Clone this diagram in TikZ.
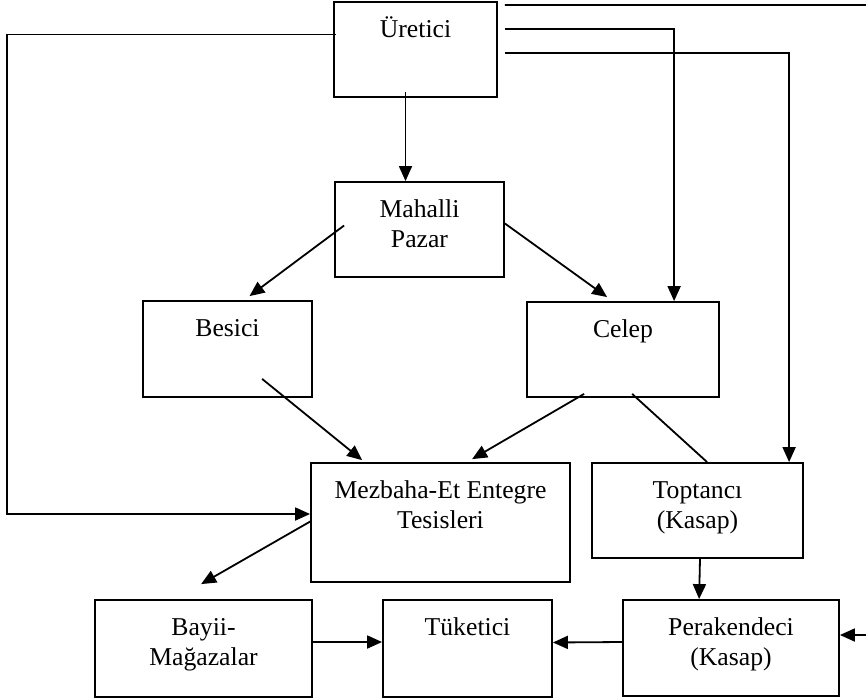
\documentclass[tikz,border=0pt]{standalone}
\usepackage{fontspec}
\setmainfont{Liberation Serif}
\usetikzlibrary{arrows.meta,calc}

\begin{document}
\begin{tikzpicture}[x=1pt,y=-1pt,->,>={Triangle[length=15pt,width=13pt]},
                    line width=1.8pt]
  \tikzstyle{box}=[draw=black,line width=1.8pt,inner sep=0pt]
  \tikzstyle{lbl}=[anchor=north,inner sep=0pt,outer sep=0pt,yshift=-15pt,align=center,
                   font=\fontsize{25.7}{30}\selectfont]

  \useasboundingbox (0,0) rectangle (866,698);

  % boxes
  \node[box,minimum width=163,minimum height=95,label={[lbl]north:\strut Üretici}]   (uretici)   at (415.5,49.5)  {};
  \node[box,minimum width=169,minimum height=95,label={[lbl]north:{\strut Mahalli\\Pazar}}] (mahalli) at (419.5,229.5) {};
  \node[box,minimum width=169,minimum height=96,label={[lbl]north:\strut Besici}]    (besici)    at (227.5,349)   {};
  \node[box,minimum width=192,minimum height=95,label={[lbl]north:\strut Celep}]     (celep)     at (623,349.5)   {};
  \node[box,minimum width=259,minimum height=119,label={[lbl]north:{\strut Mezbaha-Et Entegre\\Tesisleri}}] (mezbaha) at (440.5,522.5) {};
  \node[box,minimum width=211,minimum height=95,label={[lbl]north:{\strut Toptancı\\(Kasap)}}] (toptanci) at (697.5,510.5) {};
  \node[box,minimum width=217,minimum height=97,label={[lbl]north:{\strut Bayii-\\Mağazalar}}] (bayii) at (203.5,648.5) {};
  \node[box,minimum width=169,minimum height=97,label={[lbl]north:\strut Tüketici}]  (tuketici)  at (467.5,648.5) {};
  \node[box,minimum width=216,minimum height=96,label={[lbl]north:{\strut Perakendeci\\(Kasap)}}] (perakende) at (731,648) {};

  \coordinate (topend)   at (866,5);
  \coordinate (rightend) at (866,635);

  % from the producer
  \draw[-] ($(uretici.north east)+(7,4)$) -- (topend);
  \draw ($(uretici.north east)+(7,28)$) -| ($(celep.north west)+(148,0)$);
  \draw ($(uretici.north east)+(7,52)$) -| ($(toptanci.north west)+(198,0)$);
  \draw ($(uretici.west)+(3,-15)$) -| ($(mezbaha.west)+(-303,-8.5)$) -- ($(mezbaha.west)+(0,-8.5)$);
  \draw ($(uretici.south)+(-10,-6)$) -- ($(mahalli.north)+(-14,0)$);

  % middle
  \draw ($(mahalli.west)+(10,-4)$) -- ($(besici.north)+(22,-4)$);
  \draw ($(mahalli.east)+(0,-6)$) -- ($(celep.north west)+(81,-4)$);
  \draw ($(besici.south west)+(120,-19)$) -- ($(mezbaha.north west)+(52,-2)$);
  \draw ($(celep.south west)+(58,-4)$) -- ($(mezbaha.north west)+(162,-3)$);
  \draw[-] ($(celep.south west)+(106,-4)$) -- ($(toptanci.north west)+(116,0)$);

  % bottom row
  \draw ($(mezbaha.west)+(1,-1.5)$) -- ($(bayii.north west)+(107,-15)$);
  \draw ($(toptanci.south)+(2.5,0)$) -- ($(perakende.north west)+(77,0)$);
  \draw ($(perakende.west)+(0,-6)$) -- ($(tuketici.east)+(0,-6)$);
  \draw ($(bayii.east)+(0,-6.5)$) -- ($(tuketici.west)+(0,-6.5)$);
  \draw (rightend) -- ($(perakende.east)+(0,-13)$);
\end{tikzpicture}
\end{document}
